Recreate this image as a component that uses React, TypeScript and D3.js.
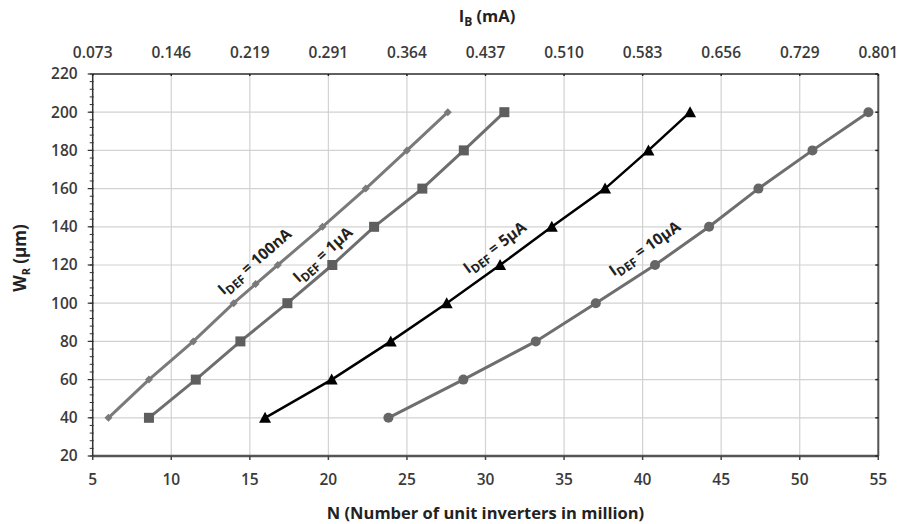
import React from "react";
import * as d3 from "d3";

const W = 900;
const H = 524;

// W_R values shared by most curves (μm)
const wr = [40, 60, 80, 100, 120, 140, 160, 180, 200];
const wr100nA = [40, 60, 80, 100, 110, 120, 140, 160, 180, 200];

// N (million unit inverters)
const n100nA = [6.0, 8.58, 11.4, 13.97, 15.37, 16.78, 19.62, 22.38, 25.0, 27.6];
const n1uA = [8.58, 11.56, 14.4, 17.39, 20.25, 22.91, 25.98, 28.62, 31.2];
const n5uA = [15.97, 20.21, 23.97, 27.53, 30.93, 34.22, 37.61, 40.37, 43.02];
const n10uA = [23.82, 28.59, 33.2, 37.02, 40.79, 44.23, 47.37, 50.81, 54.37];

const xTicks = [5, 10, 15, 20, 25, 30, 35, 40, 45, 50, 55];
const yTicks = [20, 40, 60, 80, 100, 120, 140, 160, 180, 200, 220];
const ibLabels = ["0.073", "0.146", "0.219", "0.291", "0.364", "0.437", "0.510", "0.583", "0.656", "0.729", "0.801"];

type Series = {
  key: string;
  n: number[];
  w: number[];
  color: string;
  width: number;
  marker: "diamond" | "square" | "triangle" | "circle";
  label: string;
  labelAt: [number, number];
  angle: number;
};

const series: Series[] = [
  { key: "a", n: n100nA, w: wr100nA, color: "#7a7a7a", width: 3, marker: "diamond", label: "100nA", labelAt: [15.33, 121.6], angle: -41 },
  { key: "b", n: n1uA, w: wr, color: "#6e6e6e", width: 3, marker: "square", label: "1μA", labelAt: [19.66, 125.2], angle: -42 },
  { key: "c", n: n5uA, w: wr, color: "#000000", width: 2.5, marker: "triangle", label: "5μA", labelAt: [30.61, 128.9], angle: -37 },
  { key: "d", n: n10uA, w: wr, color: "#6e6e6e", width: 3, marker: "circle", label: "10μA", labelAt: [40.16, 128.4], angle: -35 },
];

const font = "'Open Sans', 'DejaVu Sans', sans-serif";
const textColor = "#3a3a3a";

export default function App() {
  const x = d3.scaleLinear().domain([5, 55]).range([92.7, 878.3]);
  const y = d3.scaleLinear().domain([20, 220]).range([456, 74]);
  const minor = d3.range(20, 221, 4);

  const line = d3
    .line<[number, number]>()
    .x((d) => x(d[0]))
    .y((d) => y(d[1]));

  const marker = (s: Series, cx: number, cy: number, i: number) => {
    if (s.marker === "diamond")
      return <path key={i} d={`M${cx},${cy - 4}L${cx + 4},${cy}L${cx},${cy + 4}L${cx - 4},${cy}Z`} fill={s.color} />;
    if (s.marker === "square")
      return <rect key={i} x={cx - 5} y={cy - 5} width={10} height={10} fill="#5e5e5e" />;
    if (s.marker === "triangle")
      return <path key={i} d={`M${cx},${cy - 6}L${cx + 6},${cy + 5}L${cx - 6},${cy + 5}Z`} fill="#000" />;
    return <circle key={i} cx={cx} cy={cy} r={5} fill="#666" />;
  };

  return (
    <svg width={W} height={H} style={{ position: "absolute", left: 0, top: 0, background: "#fff" }} fontFamily={font}>
      {/* grid */}
      {xTicks.map((t) => (
        <line key={"gx" + t} x1={x(t)} x2={x(t)} y1={y(20)} y2={y(220)} stroke="#d2d2d2" strokeWidth={1.2} />
      ))}
      {yTicks.map((t) => (
        <line key={"gy" + t} x1={x(5)} x2={x(55)} y1={y(t)} y2={y(t)} stroke="#d2d2d2" strokeWidth={1.2} />
      ))}

      {/* frame */}
      <line x1={x(5)} x2={x(55)} y1={y(220)} y2={y(220)} stroke="#333" strokeWidth={1.5} />
      <line x1={x(55)} x2={x(55)} y1={y(220)} y2={y(20)} stroke="#555" strokeWidth={2} />
      <line x1={x(5)} x2={x(55)} y1={y(20)} y2={y(20)} stroke="#555" strokeWidth={2.5} />
      <line x1={x(5)} x2={x(5)} y1={y(220)} y2={y(20)} stroke="#333" strokeWidth={1.5} />

      {/* ticks */}
      {minor.map((t) => (
        <line key={"mn" + t} x1={x(5) - 3} x2={x(5) + 1} y1={y(t)} y2={y(t)} stroke="#333" strokeWidth={1} />
      ))}
      {yTicks.map((t) => (
        <line key={"yt" + t} x1={x(5) - 5} x2={x(5)} y1={y(t)} y2={y(t)} stroke="#333" strokeWidth={1.2} />
      ))}
      {yTicks.map((t) => (
        <line key={"yr" + t} x1={x(55) - 3} x2={x(55)} y1={y(t)} y2={y(t)} stroke="#222" strokeWidth={1.5} />
      ))}
      {xTicks.map((t) => (
        <line key={"xt" + t} x1={x(t)} x2={x(t)} y1={y(20)} y2={y(20) + 4} stroke="#444" strokeWidth={1.5} />
      ))}
      {xTicks.map((t) => (
        <line key={"xtt" + t} x1={x(t)} x2={x(t)} y1={y(220)} y2={y(220) + 2} stroke="#222" strokeWidth={1.5} />
      ))}

      {/* tick labels */}
      {yTicks.map((t) => (
        <text key={"yl" + t} x={x(5) - 15} y={y(t)} dy="0.35em" textAnchor="end" fontSize={15.5} fontWeight={600} fill={textColor}>
          {t}
        </text>
      ))}
      {xTicks.map((t) => (
        <text key={"xl" + t} x={x(t)} y={480} dy="0.35em" textAnchor="middle" fontSize={15.5} fontWeight={600} fill={textColor}>
          {t}
        </text>
      ))}
      {xTicks.map((t, i) => (
        <text key={"tl" + t} x={x(t)} y={53} dy="0.35em" textAnchor="middle" fontSize={15.5} fontWeight={600} fill={textColor}>
          {ibLabels[i]}
        </text>
      ))}

      {/* axis titles */}
      <text x={485.5} y={513} dy="0.35em" textAnchor="middle" fontSize={16.5} fontWeight={700} fill="#222">
        N (Number of unit inverters in million)
      </text>
      <text x={487} y={16} dy="0.35em" textAnchor="middle" fontSize={16.5} fontWeight={700} fill="#222">
        I<tspan fontSize={12} dy="4">B</tspan>
        <tspan dy="-4"> (mA)</tspan>
      </text>
      <text transform={`translate(20,258) rotate(-90)`} dy="0.35em" textAnchor="middle" fontSize={17} fontWeight={700} fill="#222">
        W<tspan fontSize={11} dy="4">R</tspan>
        <tspan dy="-4"> (μm)</tspan>
      </text>

      {/* series */}
      {series.map((s) => {
        const pts = s.n.map((v, i) => [v, s.w[i]] as [number, number]);
        return (
          <g key={s.key}>
            <path d={line(pts) || ""} fill="none" stroke={s.color} strokeWidth={s.width} />
            {pts.map((p, i) => marker(s, x(p[0]), y(p[1]), i))}
          </g>
        );
      })}

      {/* curve labels */}
      {series.map((s) => (
        <text
          key={"lab" + s.key}
          transform={`translate(${x(s.labelAt[0])},${y(s.labelAt[1])}) rotate(${s.angle})`}
          textAnchor="middle"
          fontSize={15.5}
          fontWeight={700}
          fill="#222"
        >
          <tspan dy="0.3em">I</tspan>
          <tspan fontSize={12} dy="4">DEF</tspan>
          <tspan dy="-4"> = {s.label}</tspan>
        </text>
      ))}
    </svg>
  );
}
